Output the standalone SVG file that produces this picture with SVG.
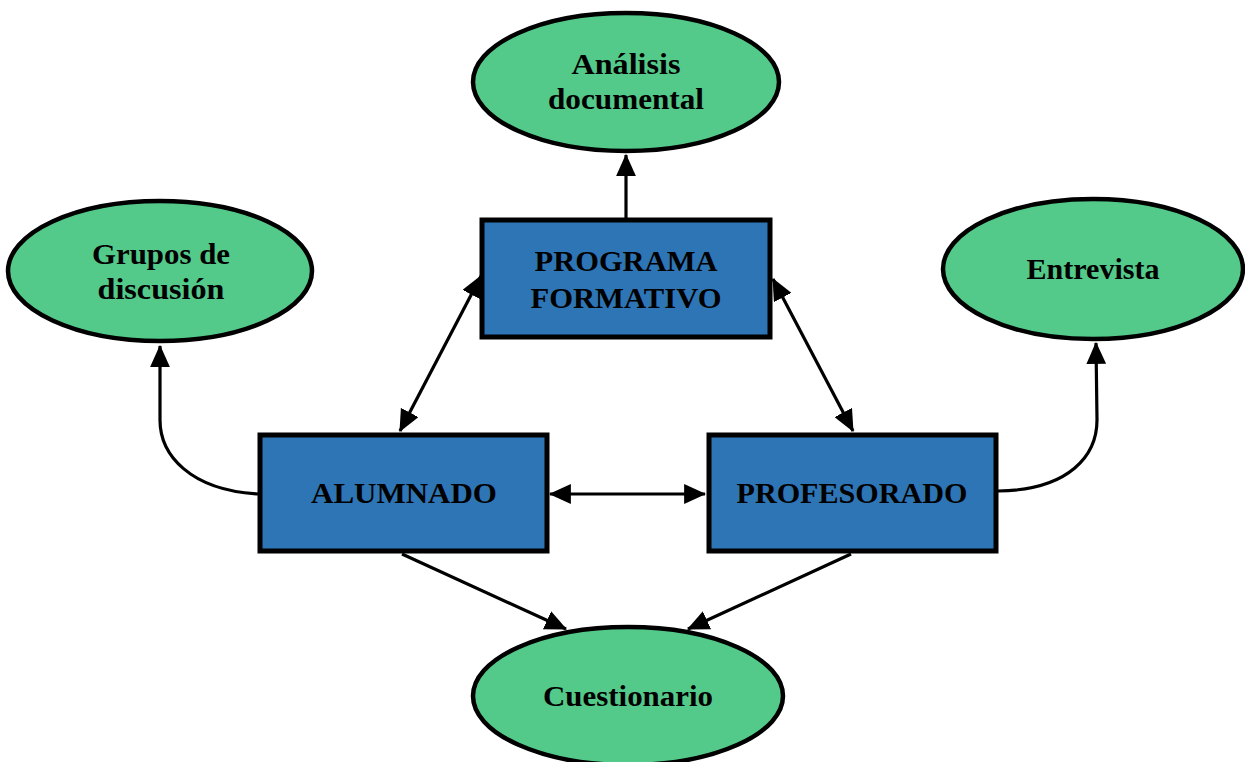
<svg xmlns="http://www.w3.org/2000/svg" width="1245" height="762" viewBox="0 0 1245 762">
<style>
.ell{fill:#53CA89;stroke:#000;stroke-width:4.5}
.box{fill:#2E75B6;stroke:#000;stroke-width:5}
.t{font-family:"Liberation Serif","Times New Roman",serif;font-weight:bold;font-size:29px;fill:#000;text-anchor:middle}
.c{fill:none;stroke:#000;stroke-width:3.2}
</style>
<defs>
<marker id="ah" markerUnits="userSpaceOnUse" markerWidth="22" markerHeight="20" refX="19" refY="9" orient="auto-start-reverse" viewBox="0 0 20 18">
<path d="M0,0 L20,9 L0,18 Z" fill="#000"/>
</marker>
</defs>
<rect width="1245" height="762" fill="#fff"/>
<g id="connectors">
<line class="c" x1="626" y1="218" x2="626" y2="155" marker-end="url(#ah)"/>
<line class="c" x1="400" y1="431" x2="481" y2="276" marker-start="url(#ah)" marker-end="url(#ah)"/>
<line class="c" x1="853" y1="431" x2="773" y2="279" marker-start="url(#ah)" marker-end="url(#ah)"/>
<line class="c" x1="550" y1="494" x2="705" y2="494" marker-start="url(#ah)" marker-end="url(#ah)"/>
<path class="c" d="M258,494 C190,490 160,455 160,420 L160,346" marker-end="url(#ah)"/>
<path class="c" d="M998,491 C1070,490 1097,455 1097,420 L1096,343" marker-end="url(#ah)"/>
<line class="c" x1="402" y1="554" x2="566" y2="629" marker-end="url(#ah)"/>
<line class="c" x1="851" y1="554" x2="688" y2="629" marker-end="url(#ah)"/>
</g>
<g id="analisis">
<ellipse class="ell" cx="626" cy="82" rx="153" ry="69"/>
<text class="t" x="626" y="74" textLength="109" lengthAdjust="spacingAndGlyphs">Análisis</text>
<text class="t" x="626" y="109" textLength="156" lengthAdjust="spacingAndGlyphs">documental</text>
</g>
<g id="grupos">
<ellipse class="ell" cx="160" cy="271" rx="152" ry="70"/>
<text class="t" x="161" y="264" textLength="138" lengthAdjust="spacingAndGlyphs">Grupos de</text>
<text class="t" x="161" y="299" textLength="127" lengthAdjust="spacingAndGlyphs">discusión</text>
</g>
<g id="entrevista">
<ellipse class="ell" cx="1093" cy="269" rx="150" ry="70"/>
<text class="t" x="1093" y="279" textLength="133" lengthAdjust="spacingAndGlyphs">Entrevista</text>
</g>
<g id="programa">
<rect class="box" x="482" y="220" width="288" height="117"/>
<text class="t" x="626" y="271" textLength="183" lengthAdjust="spacingAndGlyphs">PROGRAMA</text>
<text class="t" x="626" y="308" textLength="191" lengthAdjust="spacingAndGlyphs">FORMATIVO</text>
</g>
<g id="alumnado">
<rect class="box" x="260" y="435" width="287" height="116"/>
<text class="t" x="404" y="503" textLength="186" lengthAdjust="spacingAndGlyphs">ALUMNADO</text>
</g>
<g id="profesorado">
<rect class="box" x="709" y="435" width="287" height="116"/>
<text class="t" x="852" y="503" textLength="231" lengthAdjust="spacingAndGlyphs">PROFESORADO</text>
</g>
<g id="cuestionario">
<ellipse class="ell" cx="628" cy="696" rx="155" ry="69"/>
<text class="t" x="628" y="706" textLength="170" lengthAdjust="spacingAndGlyphs">Cuestionario</text>
</g>
</svg>
